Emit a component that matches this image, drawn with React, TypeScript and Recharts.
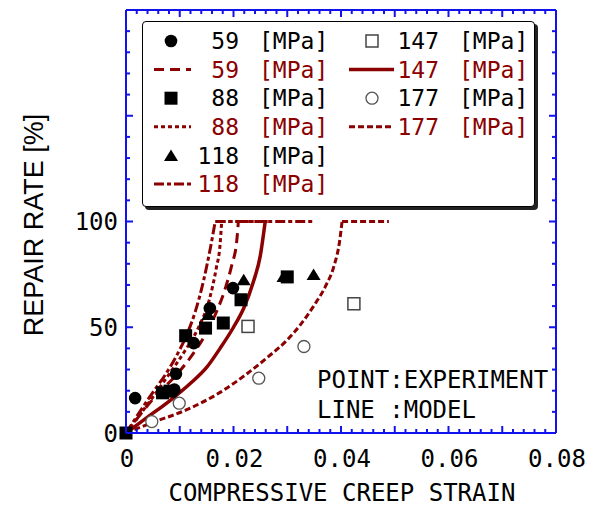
import React from 'react';
import { ComposedChart, XAxis, YAxis, Line, Scatter, Legend, Customized } from 'recharts';

// ---- tick labels ----
const xLabelTicks = [0, 0.02, 0.04, 0.06, 0.08];
const yLabelTicks = [0, 50, 100];
const xTicks = Array.from({ length: 41 }, (_, i) => +(i * 0.002).toFixed(3));
const yTicks = Array.from({ length: 21 }, (_, i) => i * 10);

// ---- experiment points ----
const pts59 = [
  { x: 0.0017, y: 16.5 }, { x: 0.0090, y: 20.5 }, { x: 0.0093, y: 28 },
  { x: 0.0126, y: 42.5 }, { x: 0.0156, y: 59 }, { x: 0.0199, y: 68.5 },
];
const pts88 = [
  { x: 0, y: 0 }, { x: 0.0068, y: 19 }, { x: 0.0082, y: 19.8 }, { x: 0.0111, y: 46 },
  { x: 0.0148, y: 49.6 }, { x: 0.0181, y: 52 }, { x: 0.0214, y: 63 }, { x: 0.0300, y: 73.8 },
];
const pts118 = [
  { x: 0.0153, y: 56 }, { x: 0.0219, y: 72.5 }, { x: 0.0293, y: 74 }, { x: 0.0349, y: 75 },
];
const pts147 = [{ x: 0.0227, y: 50.4 }, { x: 0.0424, y: 61.1 }];
const pts177 = [
  { x: 0.0048, y: 5.4 }, { x: 0.0099, y: 14.1 }, { x: 0.0247, y: 25.9 }, { x: 0.0331, y: 40.9 },
];

// ---- model curves ----
const model59 = [
  { x: 0, y: 0 }, { x: 0.0063, y: 19.6 }, { x: 0.0088, y: 25.9 }, { x: 0.0119, y: 35.4 },
  { x: 0.0144, y: 44.9 }, { x: 0.0166, y: 55.9 }, { x: 0.0185, y: 68.6 }, { x: 0.0197, y: 79.6 },
  { x: 0.0206, y: 90.7 }, { x: 0.0209, y: 100 }, { x: 0.026, y: 100 },
];
const model88 = [
  { x: 0, y: 0 }, { x: 0.005, y: 17 }, { x: 0.0082, y: 28.5 }, { x: 0.011, y: 39 },
  { x: 0.0135, y: 50 }, { x: 0.0155, y: 63 }, { x: 0.0168, y: 78 }, { x: 0.0175, y: 89 },
  { x: 0.0178, y: 100 }, { x: 0.027, y: 100 },
];
const model118 = [
  { x: 0, y: 0 }, { x: 0.0051, y: 19.6 }, { x: 0.0073, y: 27.5 }, { x: 0.0095, y: 37 },
  { x: 0.0113, y: 46.4 }, { x: 0.0129, y: 57.5 }, { x: 0.0144, y: 71.7 }, { x: 0.0157, y: 87.5 },
  { x: 0.0166, y: 100 }, { x: 0.035, y: 100 },
];
const model147 = [
  { x: 0, y: 0 }, { x: 0.004, y: 7.5 }, { x: 0.008, y: 15 }, { x: 0.012, y: 23.5 },
  { x: 0.015, y: 31 }, { x: 0.0175, y: 40 }, { x: 0.02, y: 50 }, { x: 0.0219, y: 59 },
  { x: 0.0237, y: 71.5 }, { x: 0.025, y: 84 }, { x: 0.0259, y: 100 },
];
const model177 = [
  { x: 0, y: 0 }, { x: 0.005, y: 5 }, { x: 0.0113, y: 11 }, { x: 0.0175, y: 19.2 },
  { x: 0.0225, y: 28 }, { x: 0.0269, y: 37 }, { x: 0.03, y: 44 }, { x: 0.0324, y: 51 },
  { x: 0.0349, y: 60 }, { x: 0.0371, y: 69.3 }, { x: 0.0387, y: 79 }, { x: 0.0397, y: 90 },
  { x: 0.0402, y: 100 }, { x: 0.0489, y: 100 },
];

const stressLabels = ['59', '88', '118', '147', '177'];

const BLUE = '#1212ee';
const RED = '#8b0000';
const MONO = "'DejaVu Sans Mono', monospace";

type ShapeKind = 'circle' | 'square' | 'triangle' | 'osquare' | 'ocircle';

const Marker = ({ cx, cy, kind }: { cx: number; cy: number; kind: ShapeKind }) => {
  if (cx == null || cy == null) return null;
  switch (kind) {
    case 'circle':
      return <circle cx={cx} cy={cy} r={6.3} fill="#000" />;
    case 'square':
      return <rect x={cx - 6.5} y={cy - 6.5} width={13} height={13} fill="#000" />;
    case 'triangle':
      return <polygon points={`${cx},${cy - 6} ${cx + 7},${cy + 5.5} ${cx - 7},${cy + 5.5}`} fill="#000" />;
    case 'osquare':
      return <rect x={cx - 6} y={cy - 6} width={12} height={12} fill="#fff" stroke="#444" strokeWidth={1.5} />;
    case 'ocircle':
      return <circle cx={cx} cy={cy} r={6} fill="#fff" stroke="#555" strokeWidth={1.3} />;
  }
  return null;
};

const series = [
  { label: stressLabels[0], pts: pts59, model: model59, kind: 'circle' as ShapeKind, dash: '10 6', width: 3 },
  { label: stressLabels[1], pts: pts88, model: model88, kind: 'square' as ShapeKind, dash: '4 3', width: 3 },
  { label: stressLabels[2], pts: pts118, model: model118, kind: 'triangle' as ShapeKind, dash: '10 3 4 3', width: 3 },
  { label: stressLabels[3], pts: pts147, model: model147, kind: 'osquare' as ShapeKind, dash: undefined, width: 3.5 },
  { label: stressLabels[4], pts: pts177, model: model177, kind: 'ocircle' as ShapeKind, dash: '6 3', width: 3 },
];

const isXMajor = (v: number) => Math.round(v * 1000) % 10 === 0;

const BottomTick = (p: any) => {
  const { x, y, payload } = p;
  const v = payload.value;
  const len = isXMajor(v) ? 7 : 4;
  const labeled = xLabelTicks.some((t) => Math.abs(t - v) < 1e-9);
  return (
    <g>
      <line x1={x} y1={y} x2={x} y2={y - len} stroke={BLUE} strokeWidth={2} />
      {labeled && (
        <text x={x + 1} y={y + 34} textAnchor="middle" fontFamily={MONO} fontSize={24} fill="#000">
          {v === 0 ? '0' : v.toFixed(2)}
        </text>
      )}
    </g>
  );
};
const TopTick = (p: any) => {
  const { x, y, payload } = p;
  const len = isXMajor(payload.value) ? 7 : 4;
  return <line x1={x} y1={y} x2={x} y2={y + len} stroke={BLUE} strokeWidth={2} />;
};
const LeftTick = (p: any) => {
  const { x, y, payload } = p;
  const v = payload.value;
  const len = v % 50 === 0 ? 7 : 4;
  return (
    <g>
      <line x1={x} y1={y} x2={x + len} y2={y} stroke={BLUE} strokeWidth={2} />
      {yLabelTicks.includes(v) && (
        <text x={x - 8} y={y} dy="0.36em" textAnchor="end" fontFamily={MONO} fontSize={24} fill="#000">
          {v}
        </text>
      )}
    </g>
  );
};
const RightTick = (p: any) => {
  const { x, y, payload } = p;
  const len = payload.value % 50 === 0 ? 7 : 4;
  return <line x1={x} y1={y} x2={x - len} y2={y} stroke={BLUE} strokeWidth={2} />;
};

const Texts = () => (
  <g>
    <text x={342} y={501} textAnchor="middle" fontFamily={MONO} fontSize={24} fill="#000">
      COMPRESSIVE CREEP STRAIN
    </text>
    <text
      x={33}
      y={225}
      transform="rotate(-90 33 225)"
      textAnchor="middle"
      dy="0.36em"
      fontFamily="'Liberation Sans', Arial, sans-serif"
      fontSize={27}
      fill="#000"
    >
      REPAIR RATE [%]
    </text>
    <text x={317} y={388} fontFamily={MONO} fontSize={24} fill="#000">POINT:EXPERIMENT</text>
    <text x={317} y={418} fontFamily={MONO} fontSize={24} fill="#000" style={{ whiteSpace: 'pre' }}>LINE :MODEL</text>
  </g>
);

const LegendBox = () => {
  const rowY = (r: number) => 19 + r * 28.6;
  const cols = [
    { sym: 28, l1: 11, l2: 48, numEnd: 96, unit: 116 },
    { sym: 229, l1: 206, l2: 251, numEnd: 296, unit: 316 },
  ];
  const items = series.map((s, i) => {
    const c = i < 3 ? cols[0] : cols[1];
    const r = i < 3 ? i * 2 : (i - 3) * 2;
    return { s, c, r };
  });
  return (
    <div
      style={{
        width: 393,
        height: 186,
        boxSizing: 'border-box',
        border: '1.5px solid #000',
        borderRadius: 4,
        background: '#fff',
        boxShadow: '3px 3px 0 #222',
      }}
    >
      <svg width={390} height={183} style={{ display: 'block' }}>
        {items.map(({ s, c, r }) => (
          <g key={s.label}>
            <Marker cx={c.sym} cy={rowY(r)} kind={s.kind} />
            <text x={c.numEnd} y={rowY(r)} dy="0.36em" textAnchor="end" fontFamily={MONO} fontSize={23} fill="#000">
              {s.label}
            </text>
            <text x={c.unit} y={rowY(r)} dy="0.36em" fontFamily={MONO} fontSize={23} fill="#000">[MPa]</text>
            <line
              x1={c.l1}
              y1={rowY(r + 1)}
              x2={c.l2}
              y2={rowY(r + 1)}
              stroke={RED}
              strokeWidth={s.width}
              strokeDasharray={s.dash}
            />
            <text x={c.numEnd} y={rowY(r + 1)} dy="0.36em" textAnchor="end" fontFamily={MONO} fontSize={23} fill={RED}>
              {s.label}
            </text>
            <text x={c.unit} y={rowY(r + 1)} dy="0.36em" fontFamily={MONO} fontSize={23} fill={RED}>[MPa]</text>
          </g>
        ))}
      </svg>
    </div>
  );
};

export default function App() {
  return (
    <div style={{ position: 'absolute', left: 0, top: 0 }}>
      <ComposedChart width={595} height={508} margin={{ top: 9, right: 38, left: 0, bottom: 0 }}>
        <XAxis
          type="number"
          dataKey="x"
          domain={[0, 0.08]}
          ticks={xTicks}
          interval={0}
          tickSize={0}
          tickMargin={0}
          tickLine={false}
          axisLine={{ stroke: BLUE, strokeWidth: 2 }}
          tick={(p: any) => <BottomTick {...p} />}
          height={75}
        />
        <XAxis
          xAxisId="top"
          orientation="top"
          type="number"
          dataKey="x"
          domain={[0, 0.08]}
          ticks={xTicks}
          interval={0}
          tickSize={0}
          tickMargin={0}
          tickLine={false}
          axisLine={{ stroke: BLUE, strokeWidth: 2 }}
          tick={(p: any) => <TopTick {...p} />}
          height={1}
          allowDataOverflow
        />
        <YAxis
          type="number"
          dataKey="y"
          domain={[0, 200]}
          ticks={yTicks}
          interval={0}
          tickSize={0}
          tickMargin={0}
          tickLine={false}
          axisLine={{ stroke: BLUE, strokeWidth: 2 }}
          tick={(p: any) => <LeftTick {...p} />}
          width={126}
        />
        <YAxis
          yAxisId="right"
          orientation="right"
          type="number"
          dataKey="y"
          domain={[0, 200]}
          ticks={yTicks}
          interval={0}
          tickSize={0}
          tickMargin={0}
          tickLine={false}
          axisLine={{ stroke: BLUE, strokeWidth: 2 }}
          tick={(p: any) => <RightTick {...p} />}
          width={1}
          allowDataOverflow
        />
        {series.map((s) => {
          const k = s.model.findIndex((d) => d.y >= 100);
          const curve = s.model.slice(0, k + 1);
          const flat = s.model.slice(k);
          const out = [
            <Line
              key={`c${s.label}`}
              data={curve}
              dataKey="y"
              type="monotone"
              stroke={RED}
              strokeWidth={s.width}
              strokeDasharray={s.dash}
              dot={false}
              activeDot={false}
              legendType="none"
              isAnimationActive={false}
            />,
          ];
          if (flat.length > 1) {
            out.push(
              <Line
                key={`f${s.label}`}
                data={flat}
                dataKey="y"
                type="linear"
                stroke={RED}
                strokeWidth={s.width}
                strokeDasharray={s.dash}
                dot={false}
                activeDot={false}
                legendType="none"
                isAnimationActive={false}
              />
            );
          }
          return out;
        })}
        {series.map((s) => (
          <Scatter
            key={`p${s.label}`}
            data={s.pts}
            dataKey="y"
            legendType="none"
            isAnimationActive={false}
            shape={(p: any) => <Marker cx={p.cx} cy={p.cy} kind={s.kind} />}
          />
        ))}
        <Customized component={Texts} />
        <Legend
          layout="vertical"
          align="center"
          verticalAlign="middle"
          wrapperStyle={{ left: 142, top: 21, width: 393, height: 186 }}
          content={() => <LegendBox />}
        />
      </ComposedChart>
    </div>
  );
}
